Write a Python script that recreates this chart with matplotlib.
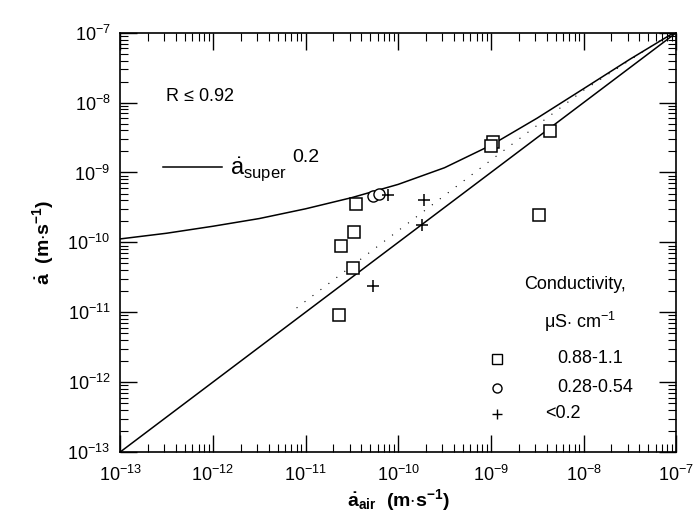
import matplotlib
matplotlib.use('Agg')
import matplotlib.pyplot as plt

plt.rcParams['font.family'] = ['Liberation Sans', 'DejaVu Sans']
plt.rcParams['mathtext.fontset'] = 'custom'
plt.rcParams['mathtext.rm'] = 'Liberation Sans'
plt.rcParams['mathtext.it'] = 'Liberation Sans:italic'
plt.rcParams['mathtext.bf'] = 'Liberation Sans:bold'

# data
sq_x = [3.47e-11, 3.34e-11, 2.40e-11, 3.24e-11, 2.32e-11, 1.05e-9, 1.0e-9, 4.3e-9, 3.3e-9]
sq_y = [3.5e-10, 1.4e-10, 9.0e-11, 4.3e-11, 9.0e-12, 2.7e-9, 2.4e-9, 3.9e-9, 2.5e-10]
ci_x = [5.3e-11, 6.2e-11]
ci_y = [4.6e-10, 4.9e-10]
pl_x = [7.7e-11, 1.9e-10, 1.8e-10, 5.3e-11]
pl_y = [4.8e-10, 4.0e-10, 1.8e-10, 2.4e-11]

# a_super 0.2 curve
curve_x = [1e-13, 3.16e-13, 1e-12, 3.16e-12, 1e-11, 3.16e-11, 1e-10, 3.16e-10,
           1e-9, 3.16e-9, 1e-8, 3.16e-8, 1e-7]
curve_y = [1.12e-10, 1.35e-10, 1.70e-10, 2.19e-10, 3.02e-10, 4.37e-10, 6.76e-10,
           1.17e-9, 2.45e-9, 6.0e-9, 1.58e-8, 4.17e-8, 1.05e-7]
# 1:1 line
line_x = [1e-13, 1e-7]
line_y = [1e-13, 1e-7]
# faint dotted line
dot_x = [8e-12, 1e-9, 1e-8, 9e-8]
dot_y = [1.15e-11, 1.5e-9, 1.5e-8, 1e-7]

decades = [1e-13, 1e-12, 1e-11, 1e-10, 1e-9, 1e-8, 1e-7]
dec_labels = [r'$10^{-13}$', r'$10^{-12}$', r'$10^{-11}$', r'$10^{-10}$',
              r'$10^{-9}$', r'$10^{-8}$', r'$10^{-7}$']

fig = plt.figure(figsize=(6.95, 5.28), dpi=100)
ax = fig.add_axes([0.173, 0.144, 0.800, 0.794])

ax.plot(curve_x, curve_y, color='black', lw=1.1)
ax.plot(line_x, line_y, color='black', lw=1.1)
ax.plot(dot_x, dot_y, color='black', lw=0.8, ls=(0, (1, 8)))

ax.plot(sq_x, sq_y, ls='none', marker='s', ms=8, mfc='white', mec='black', mew=1.1)
ax.plot(ci_x, ci_y, ls='none', marker='o', ms=8, mfc='white', mec='black', mew=1.0)
ax.plot(pl_x, pl_y, ls='none', marker='+', ms=9, mec='black', mew=1.1)

ax.set_xscale('log')
ax.set_yscale('log')
ax.set_xlim(1e-13, 1e-7)
ax.set_ylim(1e-13, 1e-7)
ax.set_xticks(decades)
ax.set_xticklabels(dec_labels)
ax.set_yticks(decades)
ax.set_yticklabels(dec_labels)
ax.tick_params(which='both', direction='in', top=True, right=True, labelsize=13)
ax.tick_params(which='major', length=12, width=1)
ax.tick_params(which='minor', length=6, width=0.8)
ax.tick_params(axis='x', pad=9)
ax.tick_params(axis='y', pad=7)
for s in ax.spines.values():
    s.set_linewidth(1.2)

ax.set_xlabel(r'$\mathbf{\dot{a}_{air}}$  $\mathbf{(m{\cdot}s^{-1})}$', fontsize=14, labelpad=2)
ax.set_ylabel(r'$\mathbf{\dot{a}}$  $\mathbf{(m{\cdot}s^{-1})}$', fontsize=14, labelpad=8)

ax.text(0.081, 0.847, r'R$\,\leq\,$0.92', transform=ax.transAxes, fontsize=13, va='center')
ax.plot([0.077, 0.183], [0.680, 0.680], transform=ax.transAxes, color='black', lw=1.1)
ax.text(0.197, 0.675, r'$\dot{\mathrm{a}}_{\mathrm{super}}$', transform=ax.transAxes,
        fontsize=17, va='center')
ax.text(0.310, 0.703, '0.2', transform=ax.transAxes, fontsize=14, va='center')

ax.text(0.818, 0.399, 'Conductivity,', transform=ax.transAxes, fontsize=13,
        ha='center', va='center')
ax.text(0.827, 0.310, r'$\mathrm{\mu S{\cdot}\ cm^{-1}}$', transform=ax.transAxes,
        fontsize=13, ha='center', va='center')
ax.plot([0.678], [0.222], transform=ax.transAxes, marker='s', ms=6.5, mfc='white',
        mec='black', mew=1.0, ls='none')
ax.plot([0.678], [0.153], transform=ax.transAxes, marker='o', ms=6.5, mfc='white',
        mec='black', mew=1.0, ls='none')
ax.plot([0.678], [0.091], transform=ax.transAxes, marker='+', ms=7, mec='black',
        mew=1.0, ls='none')
ax.text(0.786, 0.222, '0.88-1.1', transform=ax.transAxes, fontsize=13, va='center')
ax.text(0.786, 0.153, '0.28-0.54', transform=ax.transAxes, fontsize=13, va='center')
ax.text(0.764, 0.091, '<0.2', transform=ax.transAxes, fontsize=13, va='center')

fig.savefig('out.png', dpi=100)
